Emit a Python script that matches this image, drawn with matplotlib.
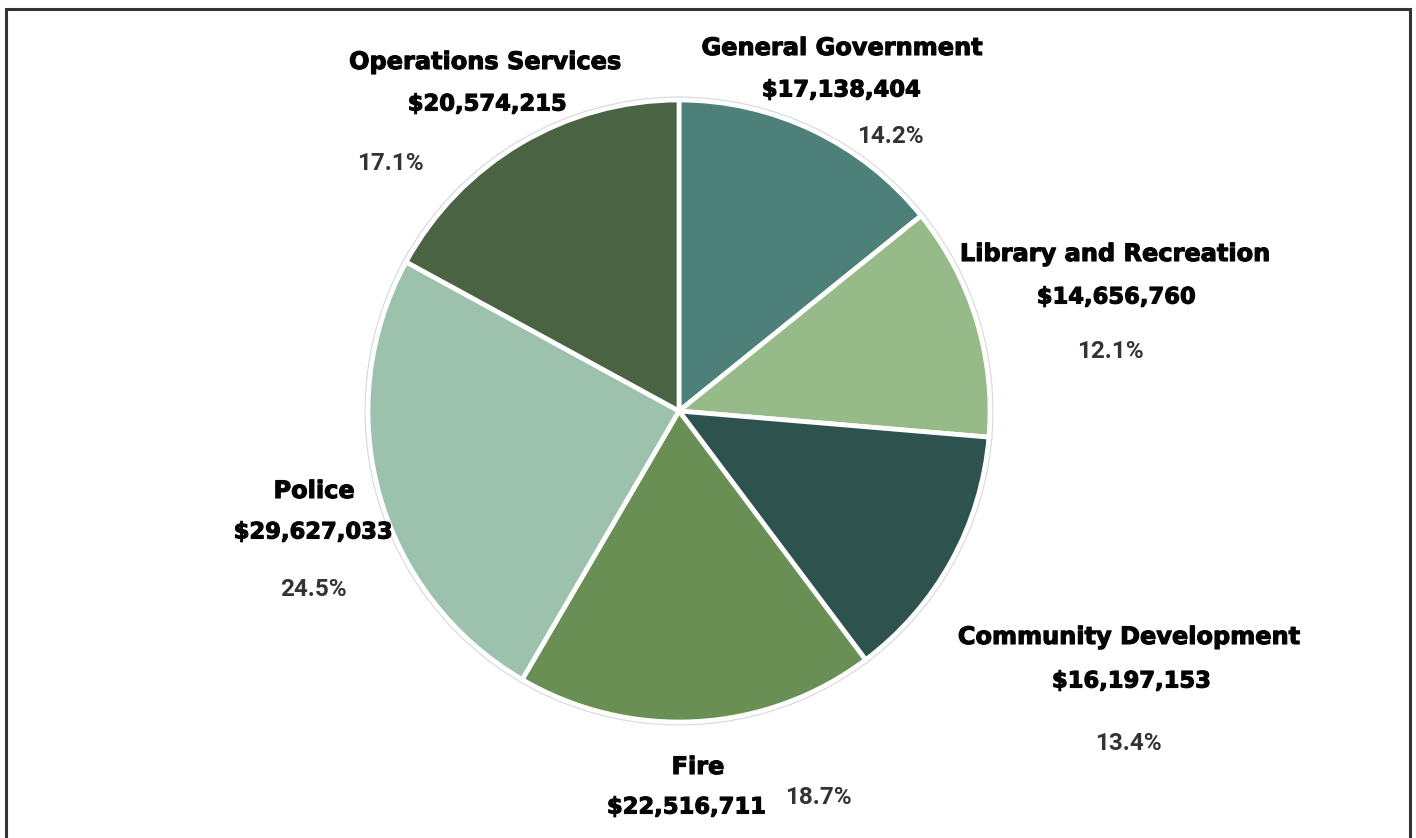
import matplotlib
matplotlib.use("Agg")
import matplotlib.pyplot as plt
import matplotlib.patheffects as pe
from matplotlib.patches import Rectangle

# Budget by department
departments = ["General Government", "Library and Recreation", "Community Development",
               "Fire", "Police", "Operations Services"]
amounts = [17138404, 14656760, 16197153, 22516711, 29627033, 20574215]
shares = [14.2, 12.1, 13.4, 18.7, 24.5, 17.1]
colors = ["#4d8078", "#97bb88", "#2e534f", "#6a8f55", "#9cc1ac", "#4a6342"]

W, H = 1416, 838
fig = plt.figure(figsize=(W / 100, H / 100), dpi=100)
ax = fig.add_axes([0, 0, 1, 1])

cx, cy, r = 679, H - 411, 311

# soft grey outline under the white separators
ax.pie(amounts, colors=colors, startangle=90, counterclock=False,
       center=(cx, cy), radius=r, frame=True,
       wedgeprops=dict(edgecolor="#d3dbd9", linewidth=5.0))
ax.pie(amounts, colors=colors, startangle=90, counterclock=False,
       center=(cx, cy), radius=r, frame=True,
       wedgeprops=dict(edgecolor="white", linewidth=3.4))
ax.set_xlim(0, W)
ax.set_ylim(0, H)
ax.set_aspect("equal")
ax.axis("off")

heavy = [pe.withStroke(linewidth=0.8, foreground="#050505")]
name_kw = dict(fontsize=17.3, fontweight="bold", color="#050505",
               family=["DejaVu Sans"], ha="center", va="center", path_effects=heavy)
amt_kw = dict(name_kw, fontsize=16.3)
pct_kw = dict(fontsize=17.5, fontweight="bold", color="#333333",
              family=["Roboto", "DejaVu Sans"], ha="center", va="center")

# label anchor points (name, amount, share) per department
label_pos = [
    ((842, 48), (841, 90), (890, 136)),
    ((1115, 254), (1116, 297), (1110, 351)),
    ((1129, 637), (1131, 681), (1128, 743)),
    ((698, 767), (686, 807), (818, 797)),
    ((314, 491), (313, 532), (313, 589)),
    ((485, 62), (487, 104), (390, 163)),
]

for name, amt, pct, (pn, pa, pp) in zip(departments, amounts, shares, label_pos):
    ax.text(pn[0], H - pn[1], name, **name_kw)
    ax.text(pa[0], H - pa[1], f"${amt:,}", **amt_kw)
    ax.text(pp[0], H - pp[1], f"{pct:.1f}%", **pct_kw)

# outer frame
fig.patches.append(Rectangle((6 / W, -0.01), (1410 - 6) / W, (H - 9) / H + 0.01,
                             transform=fig.transFigure, fill=False,
                             edgecolor="#333333", linewidth=2.2))

fig.savefig("out.png", dpi=100, facecolor="white")
